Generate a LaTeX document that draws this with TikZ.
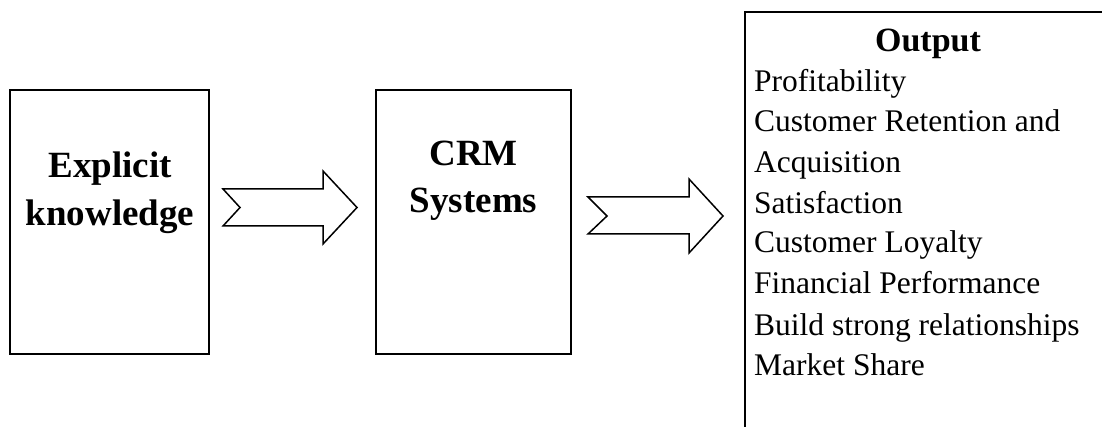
\documentclass[tikz,border=0pt]{standalone}
\usepackage{fontspec}
\setmainfont{Liberation Serif}
\begin{document}
\begin{tikzpicture}[x=1pt,y=-1pt,
  boxstyle/.style={draw=black,line width=1.6pt,inner sep=0pt,minimum width=199pt,minimum height=264pt},
  headtext/.style={inner sep=0pt,anchor=base,font=\bfseries\fontsize{37}{44}\selectfont},
  outhead/.style={inner sep=0pt,anchor=base,font=\bfseries\fontsize{34}{40}\selectfont},
  itemtext/.style={inner sep=0pt,anchor=base west,font=\fontsize{31.5}{38}\selectfont},
  blockarrow/.style={draw=black,line width=1.5pt,line join=miter,fill=white}]
\useasboundingbox (0,0) rectangle (1102,427);
\clip (0,0) rectangle (1102,427);
% boxes
\node[boxstyle] (kbox) at (109.5,222) {};
\node[boxstyle,minimum width=195pt] (cbox) at (473.5,222) {};
\draw[line width=1.6pt] (745,12) rectangle (1115,445);
\coordinate (obox) at (745,12);
% box texts
\node[headtext] (k1) at (110,178) {Explicit};
\node[headtext] (k2) at (110,226) {knowledge};
\node[headtext] (c1) at (473.5,166) {CRM};
\node[headtext] (c2) at (473.5,213) {Systems};
\node[outhead] (ohead) at (928,52) {Output};
\node[itemtext] (o1) at (754,92) {Profitability};
\node[itemtext] (o2) at (754,132) {Customer Retention and};
\node[itemtext] (o3) at (754,173) {Acquisition};
\node[itemtext] (o4) at (754,214) {Satisfaction};
\node[itemtext] (o5) at (754,253) {Customer Loyalty};
\node[itemtext] (o6) at (754,294) {Financial Performance};
\node[itemtext] (o7) at (754,335) {Build strong relationships};
\node[itemtext] (o8) at (754,375) {Market Share};
% block arrows
\draw[blockarrow] (223,189) -- (323,189) -- (323,171) -- (357,207.5) -- (323,244) -- (323,226) -- (223,226) -- (240,207.5) -- cycle;
\draw[blockarrow] (588,197) -- (689,197) -- (689,179) -- (723,216) -- (689,253) -- (689,234) -- (588,234) -- (607,216) -- cycle;
\end{tikzpicture}
\end{document}
